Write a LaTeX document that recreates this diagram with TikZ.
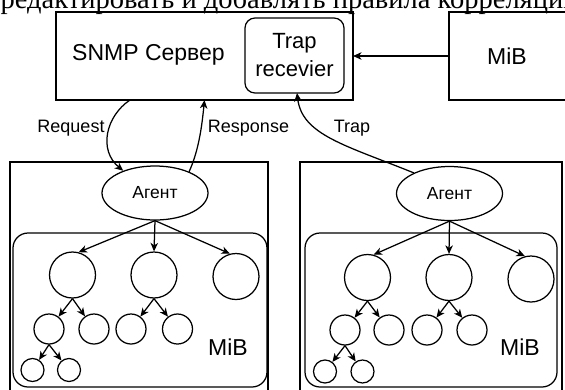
\documentclass[tikz,border=0pt]{standalone}
\usepackage{fontspec}
\setmainfont{Liberation Sans}
\newfontfamily\serifrm{Liberation Serif}
\usetikzlibrary{arrows.meta,shapes.geometric}
\begin{document}
\begin{tikzpicture}[x=1pt,y=-1pt,line width=1.25pt,
  arr/.style={-{Stealth[length=8.5pt,width=7.5pt,inset=2.5pt]}},
  rect/.style={draw,rectangle,anchor=north west,inner sep=0pt,outer sep=0pt},
  leaf/.style={draw,circle,inner sep=0pt},
  big/.style={font=\fontsize{23}{27}\selectfont},
  lbl/.style={font=\fontsize{18}{20}\selectfont,inner sep=0pt},
  agent/.style={draw,ellipse,inner sep=0pt,minimum width=106pt,minimum height=54pt,font=\fontsize{17.5}{20}\selectfont}]
\useasboundingbox (0,0) rectangle (565,389);
\clip (0,0) rectangle (565,389);

% clipped line of text at the top
\node[anchor=base west,inner sep=0pt,font=\serifrm\fontsize{28.5}{32}\selectfont] (toptext) at (0,8.5) {редактировать и добавлять правила корреляции};

% server and MiB
\node[rect,minimum width=297pt,minimum height=88pt] (srv) at (56,12) {};
\node[big] (srvt) at (148.5,55) {SNMP Сервер};
\node[rect,rounded corners=10pt,minimum width=99pt,minimum height=75pt] (tr) at (245,18) {};
\node[big,align=center,font=\fontsize{22}{28}\selectfont] (trt) at (294.5,55) {Trap\\recevier};
\node[rect,minimum width=130pt,minimum height=88pt] (mibT) at (449,12) {};
\node[big] (mibTt) at (507,56) {MiB};
\draw[arr] (mibT.west) -- (srv.east);

% left agent
\node[rect,minimum width=258pt,minimum height=240pt] (boxL) at (10,162) {};
\node[rect,rounded corners=15pt,minimum width=254pt,minimum height=154pt] (mibL) at (13,233) {};
\node[big] (mibLt) at (228,347) {MiB};
\node[agent] (aL) at (155,193) {Агент};
\node[leaf,minimum size=46pt] (L1) at (72.5,275) {};
\node[leaf,minimum size=46pt] (L2) at (154,275) {};
\node[leaf,minimum size=46pt] (L3) at (236,276.5) {};
\node[leaf,minimum size=30pt] (L11) at (49,329) {};
\node[leaf,minimum size=30pt] (L12) at (94,329) {};
\node[leaf,minimum size=30pt] (L21) at (131,329) {};
\node[leaf,minimum size=30pt] (L22) at (177.5,329) {};
\node[leaf,minimum size=23pt] (L111) at (32.5,370) {};
\node[leaf,minimum size=23pt] (L112) at (69,370) {};
\draw[arr] (aL.south) -- (L1.75);
\draw[arr] (aL.south) -- (L2.north);
\draw[arr] (aL.south) -- (L3.105);
\draw[arr] (L1.south) -- (L11);
\draw[arr] (L1.south) -- (L12);
\draw[arr] (L2.south) -- (L21);
\draw[arr] (L2.south) -- (L22);
\draw[arr] (L11.south) -- (L111);
\draw[arr] (L11.south) -- (L112);

% right agent
\node[rect,minimum width=262pt,minimum height=240pt] (boxR) at (300,162) {};
\node[rect,rounded corners=15pt,minimum width=252pt,minimum height=154pt] (mibR) at (305,233) {};
\node[big] (mibRt) at (520,347) {MiB};
\node[agent] (aR) at (449.5,193.5) {Агент};
\node[leaf,minimum size=46pt] (R1) at (367.5,277.5) {};
\node[leaf,minimum size=46pt] (R2) at (449,277.5) {};
\node[leaf,minimum size=46pt] (R3) at (531,279) {};
\node[leaf,minimum size=30pt] (R11) at (345,330) {};
\node[leaf,minimum size=30pt] (R12) at (389,330) {};
\node[leaf,minimum size=30pt] (R21) at (427,330) {};
\node[leaf,minimum size=30pt] (R22) at (472,330) {};
\node[leaf,minimum size=23pt] (R111) at (325,371.5) {};
\node[leaf,minimum size=23pt] (R112) at (362.5,371.5) {};
\draw[arr] (aR.south) -- (R1.75);
\draw[arr] (aR.south) -- (R2.north);
\draw[arr] (aR.south) -- (R3.105);
\draw[arr] (R1.south) -- (R11);
\draw[arr] (R1.south) -- (R12);
\draw[arr] (R2.south) -- (R21);
\draw[arr] (R2.south) -- (R22);
\draw[arr] (R11.south) -- (R111);
\draw[arr] (R11.south) -- (R112);

% protocol connectors
\coordinate (reqS) at ([xshift=-74.5pt]srv.south);
\draw[arr] (reqS) .. controls (106,116) and (98,150) .. (aL.145);
\draw[arr] (aL.32) .. controls (199,150) and (202,125) .. (srv.south);
\coordinate (trE) at ([xshift=2.5pt]tr.south);
\draw[arr] (aR.150) .. controls (345,145) and (302,135) .. (trE);

\node[lbl] (req) at (71,128) {Request};
\node[lbl] (resp) at (248.5,128) {Response};
\node[lbl] (trap) at (352,128) {Trap};
\end{tikzpicture}
\end{document}
